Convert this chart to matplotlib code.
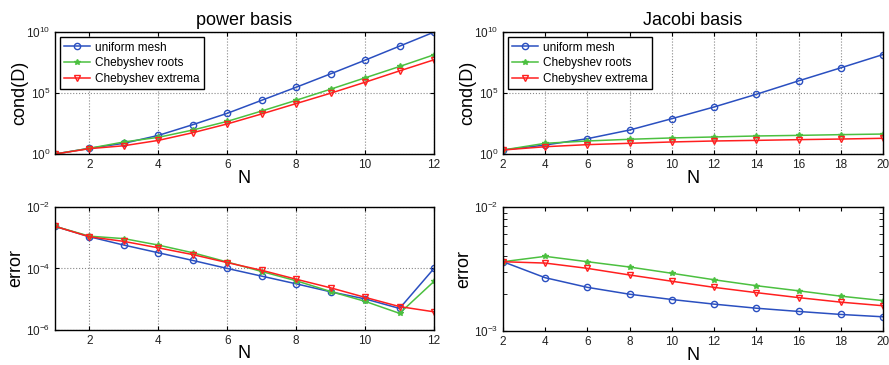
import numpy as np
import matplotlib.pyplot as plt
from matplotlib.ticker import LogLocator, NullFormatter, NullLocator

plt.rcParams['font.family'] = ['Liberation Sans', 'DejaVu Sans']
plt.rcParams['mathtext.default'] = 'regular'

# power basis, N = 1..12 (log10 values)
n_pow = np.arange(1, 13)
cond_pow_uni = [0.0, 0.47, 0.88, 1.53, 2.41, 3.34, 4.41, 5.48, 6.58, 7.70, 8.85, 10.0]
cond_pow_root = [0.0, 0.47, 0.99, 1.37, 1.97, 2.68, 3.53, 4.41, 5.32, 6.25, 7.18, 8.14]
cond_pow_ext = [0.0, 0.44, 0.68, 1.12, 1.75, 2.47, 3.29, 4.14, 4.99, 5.89, 6.82, 7.73]
err_pow_uni = [-2.63, -2.97, -3.24, -3.49, -3.74, -4.00, -4.25, -4.50, -4.76, -4.99, -5.30, -4.00]
err_pow_root = [-2.63, -2.95, -3.03, -3.24, -3.49, -3.79, -4.10, -4.40, -4.75, -5.07, -5.46, -4.42]
err_pow_ext = [-2.63, -2.97, -3.12, -3.33, -3.55, -3.81, -4.06, -4.35, -4.63, -4.94, -5.24, -5.41]

# Jacobi basis, N = 2..20
n_jac = np.arange(2, 21, 2)
cond_jac_uni = [0.33, 0.74, 1.26, 1.97, 2.90, 3.86, 4.90, 6.00, 7.07, 8.16]
cond_jac_root = [0.33, 0.88, 1.07, 1.21, 1.32, 1.40, 1.48, 1.53, 1.59, 1.64]
cond_jac_ext = [0.33, 0.60, 0.77, 0.88, 0.99, 1.07, 1.12, 1.18, 1.23, 1.29]
err_jac_uni = [3.62e-3, 2.69e-3, 2.25e-3, 1.98e-3, 1.795e-3, 1.648e-3, 1.528e-3, 1.439e-3, 1.361e-3, 1.303e-3]
err_jac_root = [3.62e-3, 4.00e-3, 3.62e-3, 3.28e-3, 2.92e-3, 2.59e-3, 2.32e-3, 2.11e-3, 1.91e-3, 1.76e-3]
err_jac_ext = [3.62e-3, 3.53e-3, 3.20e-3, 2.83e-3, 2.52e-3, 2.25e-3, 2.04e-3, 1.86e-3, 1.71e-3, 1.60e-3]

labels = ['uniform mesh', 'Chebyshev roots', 'Chebyshev extrema']
colors = ['#2a4fc0', '#4cc040', '#ff1f1f']

fig = plt.figure(figsize=(8.89, 3.65), dpi=100)
ax1 = fig.add_axes([0.0619, 0.578, 0.4263, 0.334])
ax2 = fig.add_axes([0.5658, 0.578, 0.4274, 0.334])
ax3 = fig.add_axes([0.0619, 0.096, 0.4263, 0.337])
ax4 = fig.add_axes([0.5658, 0.093, 0.4274, 0.340])


def draw(ax, x, ys):
    ax.plot(x, ys[0], color=colors[0], lw=1.1, marker='o', ms=4.5, mfc='none', mew=1.0, label=labels[0])
    ax.plot(x, ys[1], color=colors[1], lw=1.1, marker='*', ms=3.8, label=labels[1])
    ax.plot(x, ys[2], color=colors[2], lw=1.1, marker='v', ms=5, mfc='none', mew=1.0, label=labels[2])


def pw(v):
    return 10.0 ** np.array(v)


draw(ax1, n_pow, [pw(cond_pow_uni), pw(cond_pow_root), pw(cond_pow_ext)])
draw(ax2, n_jac, [pw(cond_jac_uni), pw(cond_jac_root), pw(cond_jac_ext)])
draw(ax3, n_pow, [pw(err_pow_uni), pw(err_pow_root), pw(err_pow_ext)])
draw(ax4, n_jac, [err_jac_uni, err_jac_root, err_jac_ext])

for ax in [ax1, ax2, ax3, ax4]:
    ax.set_yscale('log')
    ax.tick_params(direction='in', top=True, right=True, labelsize=8.5, length=3,
                   which='both', labelcolor='#222222')
    ax.set_xlabel('N', fontsize=13, labelpad=-1)
    for s in ax.spines.values():
        s.set_linewidth(1.0)

for ax in [ax1, ax3]:
    ax.set_xlim(1, 12)
    ax.set_xticks(range(2, 13, 2))
for ax in [ax2, ax4]:
    ax.set_xlim(2, 20)
    ax.set_xticks(range(2, 21, 2))

for ax in [ax1, ax2]:
    ax.set_ylim(1, 1e10)
    ax.set_yticks([1, 1e5, 1e10])
    ax.yaxis.set_minor_locator(NullLocator())
    ax.set_ylabel('cond(D)', fontsize=13)
    ax.grid(True, ls=':', color='#888888', lw=0.8)
    ax.legend(loc='upper left', fontsize=8.5, fancybox=False, edgecolor='black',
              framealpha=1, borderpad=0.35, labelspacing=0.3, handlelength=2.2,
              handletextpad=0.4, borderaxespad=0.45)

ax1.set_title('power basis', fontsize=13, pad=5)
ax2.set_title('Jacobi basis', fontsize=13, pad=5)

ax3.set_ylim(1e-6, 1e-2)
ax3.set_yticks([1e-6, 1e-4, 1e-2])
ax3.yaxis.set_minor_locator(NullLocator())
ax3.grid(True, ls=':', color='#888888', lw=0.8)
ax3.set_ylabel('error', fontsize=13)

ax4.set_ylim(1e-3, 1e-2)
ax4.set_yticks([1e-3, 1e-2])
ax4.yaxis.set_minor_locator(LogLocator(subs=np.arange(2, 10)))
ax4.yaxis.set_minor_formatter(NullFormatter())
ax4.set_ylabel('error', fontsize=13)

for ax in [ax1, ax2]:
    ax.yaxis.set_label_coords(-0.07, 0.5)
for ax in [ax3, ax4]:
    ax.yaxis.set_label_coords(-0.082, 0.5)

fig.savefig('out.png', dpi=100)
